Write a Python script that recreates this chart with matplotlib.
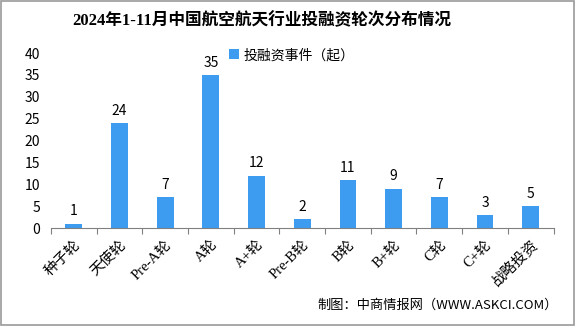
import matplotlib
matplotlib.use("Agg")
import matplotlib.pyplot as plt
from matplotlib.patches import Rectangle

plt.rcParams['font.family'] = ['Noto Sans CJK SC', 'DejaVu Sans']

categories = ["种子轮", "天使轮", "Pre-A轮", "A轮", "A+轮", "Pre-B轮", "B轮", "B+轮", "C轮", "C+轮", "战略投资"]
values = [1, 24, 7, 35, 12, 2, 11, 9, 7, 3, 5]
yticks = [0, 5, 10, 15, 20, 25, 30, 35, 40]
title = "2024年1-11月中国航空航天行业投融资轮次分布情况"
legend_label = "投融资事件（起）"
source = "制图：中商情报网（WWW.ASKCI.COM）"

color = "#3D9BF0"
serif = ['Liberation Serif', 'Noto Sans CJK SC']

fig = plt.figure(figsize=(5.75, 3.26), dpi=100)
ax = fig.add_axes([0.0887, 0.3006, 0.874, 0.5364])

x = list(range(len(categories)))
ax.bar(x, values, width=0.37, color=color, label=legend_label, zorder=2)
for xi, v in zip(x, values):
    ax.text(xi, v + 1.2, str(v), ha='center', va='bottom', fontsize=10, color='black')

ax.set_xlim(-0.5, len(categories) - 0.5)
ax.set_ylim(0, 40)
ax.set_yticks(yticks)
ax.set_yticklabels([str(t) for t in yticks], fontsize=10)
ax.tick_params(axis='y', length=0, pad=8)

ax.set_xticks([i - 0.5 for i in range(len(categories) + 1)], minor=False)
ax.set_xticklabels([])
ax.tick_params(axis='x', which='major', length=4, direction='out', color='#808080')
ax.set_xticks(x, minor=True)
ax.set_xticklabels(categories, minor=True, rotation=45, ha='right', va='top',
                   rotation_mode='anchor', fontsize=10.5, family=serif)
ax.tick_params(axis='x', which='minor', length=0, pad=7)

for s in ['top', 'right', 'left']:
    ax.spines[s].set_visible(False)
ax.spines['bottom'].set_color('#808080')

ax.legend(loc='upper left', bbox_to_anchor=(0.33, 1.10), frameon=False,
          fontsize=10, handlelength=0.7, handleheight=0.7, handletextpad=0.3)

fig.text(0.456, 0.935, title, ha='center', va='center', fontsize=12, fontweight='bold',
         family=serif)
fig.text(0.97, 0.065, source, ha='right', va='center', fontsize=9.5)

fig.patches.append(Rectangle((0.001, 0.002), 0.997, 0.995, transform=fig.transFigure,
                             fill=False, edgecolor='#999999', linewidth=1.2))

fig.savefig("out.png", dpi=100)
